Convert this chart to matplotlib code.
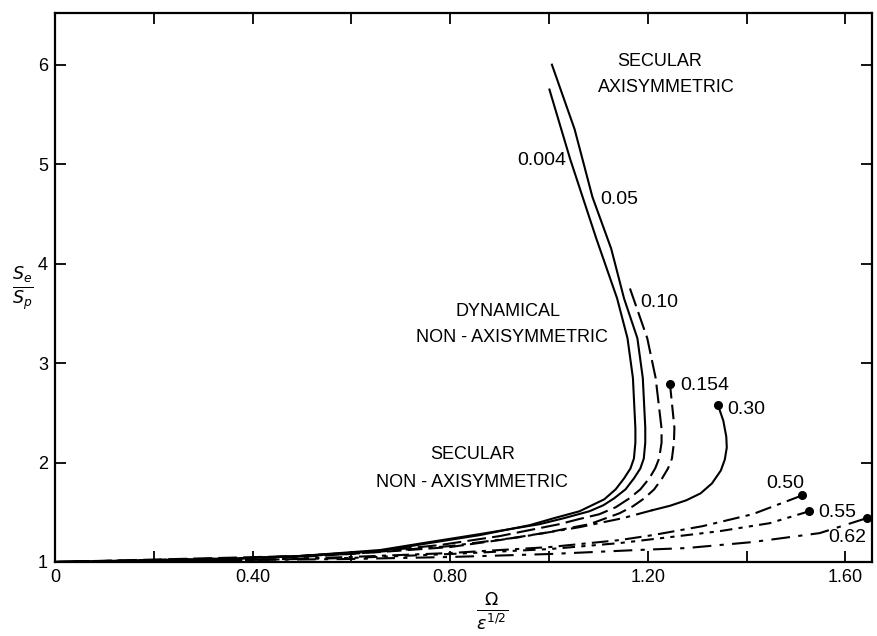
import matplotlib
matplotlib.use("Agg")
import matplotlib.pyplot as plt

plt.rcParams['font.family'] = ['Liberation Sans', 'DejaVu Sans']

# sequences (x = Omega / eps^1/2, y = S_e / S_p)
x_004 = [1.001, 1.043, 1.096, 1.138, 1.159, 1.170, 1.175, 1.175, 1.172, 1.165, 1.152, 1.135, 1.112, 1.062, 1.010, 0.961, 0.860, 0.758, 0.658, 0.496, 0.293, 0.0]
y_004 = [5.75, 5.05, 4.25, 3.65, 3.25, 2.85, 2.34, 2.20, 2.04, 1.94, 1.84, 1.73, 1.63, 1.51, 1.44, 1.37, 1.27, 1.19, 1.11, 1.06, 1.02, 1.0]

x_05 = [1.006, 1.052, 1.088, 1.126, 1.152, 1.179, 1.190, 1.195, 1.195, 1.192, 1.185, 1.172, 1.155, 1.132, 1.110, 1.082, 1.030, 0.981, 0.860, 0.758, 0.658, 0.496, 0.293, 0.0]
y_05 = [6.00, 5.35, 4.67, 4.15, 3.65, 3.25, 2.85, 2.35, 2.20, 2.04, 1.94, 1.84, 1.73, 1.64, 1.57, 1.51, 1.44, 1.38, 1.28, 1.20, 1.12, 1.06, 1.02, 1.0]

x_10 = [1.164, 1.199, 1.216, 1.228, 1.228, 1.223, 1.215, 1.203, 1.185, 1.163, 1.135, 1.102, 1.060, 1.021, 0.900, 0.779, 0.658, 0.496, 0.0]
y_10 = [3.75, 3.25, 2.85, 2.34, 2.20, 2.04, 1.94, 1.84, 1.73, 1.64, 1.55, 1.48, 1.43, 1.38, 1.26, 1.17, 1.11, 1.06, 1.0]

x_154 = [1.245, 1.254, 1.253, 1.249, 1.241, 1.229, 1.213, 1.193, 1.170, 1.143, 1.110, 1.082, 1.040, 1.001, 0.900, 0.800, 0.658, 0.496, 0.0]
y_154 = [2.79, 2.35, 2.20, 2.04, 1.94, 1.84, 1.73, 1.64, 1.56, 1.49, 1.43, 1.38, 1.34, 1.30, 1.22, 1.15, 1.10, 1.05, 1.0]

x_30 = [1.342, 1.353, 1.359, 1.360, 1.356, 1.348, 1.330, 1.307, 1.278, 1.245, 1.209, 1.149, 1.062, 0.941, 0.800, 0.597, 0.395, 0.0]
y_30 = [2.58, 2.42, 2.26, 2.15, 2.03, 1.92, 1.79, 1.69, 1.62, 1.565, 1.52, 1.44, 1.35, 1.25, 1.16, 1.08, 1.04, 1.0]

x_50 = [1.513, 1.412, 1.311, 1.210, 1.143, 1.002, 0.800, 0.597, 0.395, 0.0]
y_50 = [1.67, 1.48, 1.36, 1.27, 1.22, 1.15, 1.09, 1.05, 1.02, 1.0]

x_55 = [1.527, 1.447, 1.346, 1.279, 1.143, 1.002, 0.800, 0.597, 0.293, 0.0]
y_55 = [1.51, 1.39, 1.31, 1.27, 1.19, 1.13, 1.08, 1.04, 1.01, 1.0]

x_62 = [1.643, 1.548, 1.412, 1.279, 1.178, 1.002, 0.800, 0.597, 0.0]
y_62 = [1.44, 1.29, 1.20, 1.14, 1.12, 1.08, 1.05, 1.03, 1.0]

x_ticks = [0, 0.2, 0.4, 0.6, 0.8, 1.0, 1.2, 1.4, 1.6]
x_ticklabels = ["0", "", "0.40", "", "0.80", "", "1.20", "", "1.60"]
y_ticks = [1, 2, 3, 4, 5, 6]

fig = plt.figure(figsize=(8.77, 6.36), dpi=100)
ax = fig.add_axes([0.0627, 0.1164, 0.9316, 0.8632])

lw = 1.5
dashdot = (0, (8, 3, 2, 3))
ax.plot(x_004, y_004, color="black", lw=lw)
ax.plot(x_05, y_05, color="black", lw=lw)
ax.plot(x_10, y_10, color="black", lw=lw, ls=(0, (9, 3)))
ax.plot(x_154, y_154, color="black", lw=lw, ls=(0, (7, 3)))
ax.plot(x_30[:11], y_30[:11], color="black", lw=lw)
ax.plot(x_30[10:], y_30[10:], color="black", lw=lw, ls=dashdot)
ax.plot(x_50, y_50, color="black", lw=lw, ls=dashdot)
ax.plot(x_55, y_55, color="black", lw=lw, ls=(0, (6, 3, 2, 3, 2, 3)))
ax.plot(x_62, y_62, color="black", lw=lw, ls=(0, (9, 4, 2, 4)))

# onset points
ends_x = [x_154[0], x_30[0], x_50[0], x_55[0], x_62[0]]
ends_y = [y_154[0], y_30[0], y_50[0], y_55[0], y_62[0]]
ax.plot(ends_x, ends_y, "o", color="black", ms=5.5)

tf = dict(fontsize=13, color="black")
ax.text(1.225, 6.03, "SECULAR", ha="center", va="center", **tf)
ax.text(1.237, 5.77, "AXISYMMETRIC", ha="center", va="center", **tf)
ax.text(0.917, 3.52, "DYNAMICAL", ha="center", va="center", **tf)
ax.text(0.925, 3.26, "NON - AXISYMMETRIC", ha="center", va="center", **tf)
ax.text(0.846, 2.08, "SECULAR", ha="center", va="center", **tf)
ax.text(0.844, 1.80, "NON - AXISYMMETRIC", ha="center", va="center", **tf)

nf = dict(fontsize=14, color="black", va="center")
ax.text(1.036, 5.04, "0.004", ha="right", **nf)
ax.text(1.103, 4.64, "0.05", ha="left", **nf)
ax.text(1.184, 3.61, "0.10", ha="left", **nf)
ax.text(1.265, 2.77, "0.154", ha="left", **nf)
ax.text(1.360, 2.53, "0.30", ha="left", **nf)
ax.text(1.439, 1.79, "0.50", ha="left", **nf)
ax.text(1.545, 1.50, "0.55", ha="left", **nf)
ax.text(1.565, 1.25, "0.62", ha="left", **nf)

ax.set_xlim(0, 1.654)
ax.set_ylim(1, 6.52)
ax.set_xticks(x_ticks)
ax.set_xticklabels(x_ticklabels)
ax.set_yticks(y_ticks)
ax.tick_params(direction="in", length=8, width=1.3, top=True, right=True,
               labelsize=13, pad=5)
for s in ax.spines.values():
    s.set_linewidth(1.6)

fig.text(0.026, 0.545, r"$\frac{S_e}{S_p}$", fontsize=18, ha="center", va="center")
fig.text(0.561, 0.038, r"$\frac{\Omega}{\epsilon^{1/2}}$", fontsize=18, ha="center", va="center")

fig.savefig("out.png", dpi=100)
